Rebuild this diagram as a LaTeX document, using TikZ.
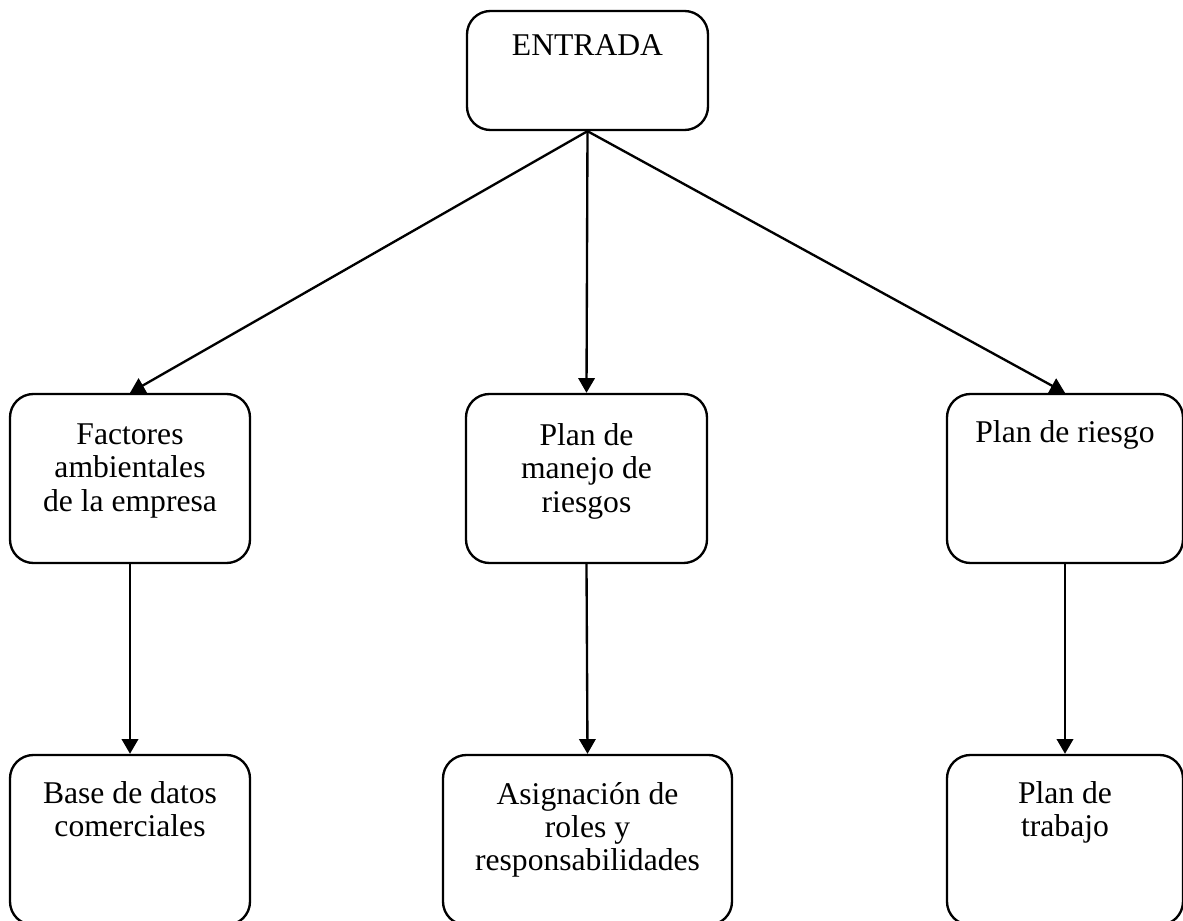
\documentclass[tikz,border=0pt]{standalone}
\usepackage{fontspec}
\setmainfont{Liberation Serif}
\usetikzlibrary{positioning, arrows.meta}

\tikzset{
  caja/.style={draw, line width=1pt, rounded corners=10pt},
  texto/.style={anchor=north, align=center, inner sep=0pt, font=\fontsize{13.5}{14.2}\selectfont},
  flecha/.style={line width=1pt, -{Triangle[length=6.3pt, width=7pt]}}
}

\begin{document}
\begin{tikzpicture}[x=0.015cm, y=-0.015cm]
\useasboundingbox (0,0) rectangle (1183,921);
% cajas
\node[caja, minimum width=3.615cm, minimum height=1.785cm] (entrada) at (587.5,70.5) {};
\node[caja, minimum width=3.6cm, minimum height=2.535cm] (factores) at (130,478.5) {};
\node[caja, minimum width=3.615cm, minimum height=2.535cm] (manejo) at (586.5,478.5) {};
\node[caja, minimum width=3.54cm, minimum height=2.535cm] (riesgo) at (1065,478.5) {};
\node[caja, minimum width=3.6cm, minimum height=2.55cm] (base) at (130,840) {};
\node[caja, minimum width=4.335cm, minimum height=2.55cm] (asignacion) at (587.5,840) {};
\node[caja, minimum width=3.54cm, minimum height=2.55cm] (trabajo) at (1065,840) {};
% textos
\node[texto, below=10.5pt of entrada.north] (tentrada) {ENTRADA};
\node[texto, below=13pt of factores.north] (tfactores) {Factores\\ambientales\\de la empresa};
\node[texto, below=13pt of manejo.north] (tmanejo) {Plan de\\manejo de\\riesgos};
\node[texto, below=11.5pt of riesgo.north] (triesgo) {Plan de riesgo};
\node[texto, below=11.5pt of base.north] (tbase) {Base de datos\\comerciales};
\node[texto, below=12pt of asignacion.north] (tasignacion) {Asignación de\\roles y\\responsabilidades};
\node[texto, below=11.5pt of trabajo.north] (ttrabajo) {Plan de\\trabajo};
% flechas
\draw[flecha] (entrada.south) -- (factores.north);
\draw[flecha] (entrada.south) -- (manejo.north);
\draw[flecha] (entrada.south) -- (riesgo.north);
\draw[flecha] (factores.south) -- (base.north);
\draw[flecha] (manejo.south) -- (asignacion.north);
\draw[flecha] (riesgo.south) -- (trabajo.north);
\end{tikzpicture}
\end{document}
